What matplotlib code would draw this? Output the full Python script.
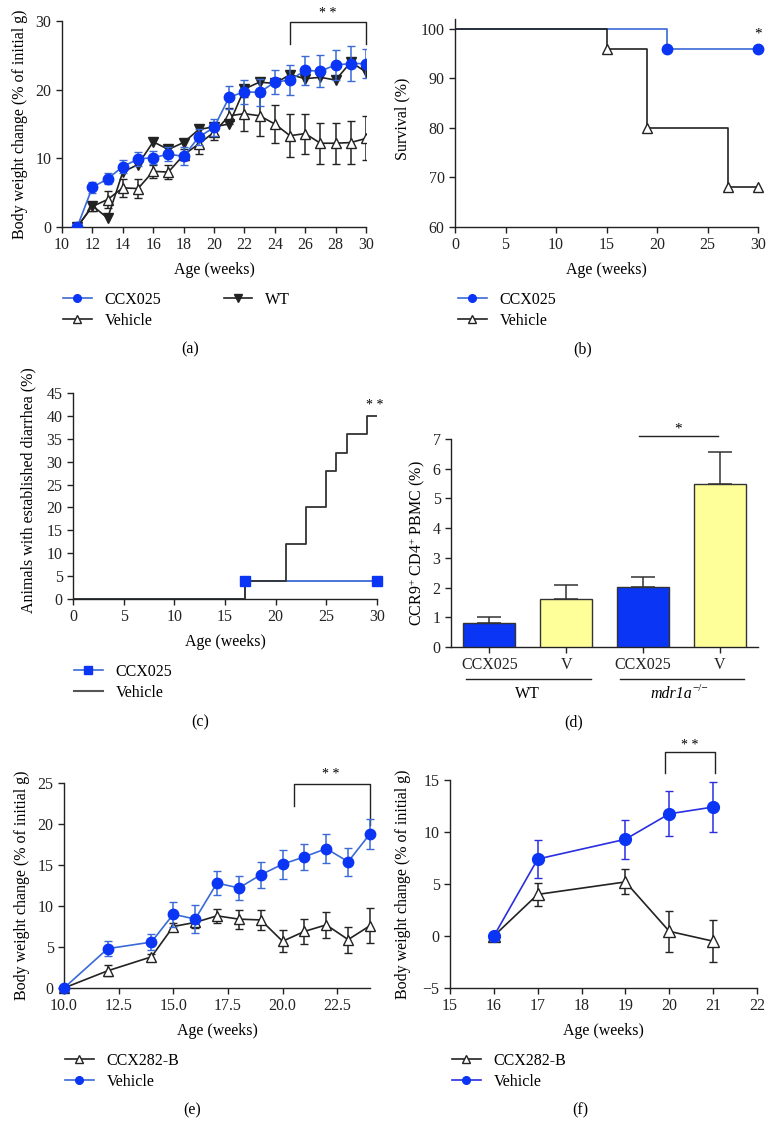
import numpy as np
import matplotlib
matplotlib.use("Agg")
import matplotlib.pyplot as plt
from matplotlib.lines import Line2D
import matplotlib.transforms as mtransforms

plt.rcParams['font.family'] = 'Liberation Serif'
plt.rcParams['font.size'] = 11.5
plt.rcParams['mathtext.fontset'] = 'custom'
plt.rcParams['mathtext.rm'] = 'Liberation Serif'
plt.rcParams['mathtext.it'] = 'Liberation Serif:italic'

# (a) body weight, mdr1a model
weeks_a = np.arange(11, 31)
ccx_a = [0, 5.8, 7.0, 8.8, 9.9, 10.1, 10.6, 10.3, 13.1, 14.5, 18.9, 19.7, 19.6, 21.1, 21.4, 22.8, 22.7, 23.6, 23.8, 23.8]
ccx_a_err = [0.2, 0.8, 0.8, 1.0, 1.0, 0.9, 1.0, 1.3, 1.2, 1.3, 1.65, 1.75, 2.0, 1.7, 2.2, 2.1, 2.3, 2.2, 2.5, 2.1]
veh_a = [0, 3.0, 4.0, 5.7, 5.6, 8.1, 8.0, 10.5, 12.1, 13.8, 16.2, 16.5, 16.2, 15.0, 13.3, 13.6, 12.2, 12.2, 12.3, 12.9]
veh_a_err = [0.2, 0.7, 1.2, 1.3, 1.4, 0.9, 1.0, 0.8, 1.4, 1.1, 1.2, 2.5, 2.9, 2.8, 3.1, 2.9, 3.0, 3.0, 3.1, 3.2]
wt_a = [0, 3.1, 1.3, 8.0, 9.1, 12.4, 11.3, 12.3, 14.2, 14.6, 15.0, 20.1, 21.1, 20.9, 22.2, 21.6, 21.8, 21.4, 24.0, 22.6]

# (b) survival
surv_t_ccx = [0, 21, 30]
surv_ccx = [100, 96, 96]
surv_t_veh = [0, 15, 19, 27, 30]
surv_veh = [100, 96, 80, 68, 68]

# (c) diarrhea incidence
diar_t_ccx = [0, 17, 30]
diar_ccx = [0, 4, 4]
diar_t_veh = [0, 17, 21, 23, 25, 26, 27, 29, 30]
diar_veh = [0, 4, 12, 20, 28, 32, 36, 40, 40]

# (d) CCR9+ CD4+ PBMC
bar_labels = ['CCX025', 'V', 'CCX025', 'V']
bar_vals = [0.80, 1.62, 2.02, 5.47]
bar_err = [0.22, 0.45, 0.33, 1.08]
group_labels = ['WT', 'mdr1a']

# (e) CCX282-B study 1
weeks_e = [10, 12, 14, 15, 16, 17, 18, 19, 20, 21, 22, 23, 24]
veh_e = [0, 4.8, 5.6, 9.0, 8.4, 12.8, 12.2, 13.8, 15.1, 16.0, 17.0, 15.4, 18.8]
veh_e_err = [0.2, 0.9, 1.0, 1.5, 1.7, 1.45, 1.5, 1.6, 1.75, 1.6, 1.75, 1.7, 1.85]
ccx282_e = [0, 2.1, 3.8, 7.5, 8.0, 8.8, 8.4, 8.3, 5.7, 6.9, 7.7, 5.9, 7.6]
ccx282_e_err = [0.2, 0.65, 0.4, 0.45, 0.7, 0.85, 1.15, 1.2, 1.35, 1.5, 1.6, 1.6, 2.1]

# (f) CCX282-B study 2
weeks_f = [16, 17, 19, 20, 21]
veh_f = [0, 7.4, 9.3, 11.75, 12.4]
veh_f_err = [0.3, 1.85, 1.9, 2.15, 2.4]
ccx282_f = [0, 4.0, 5.2, 0.45, -0.5]
ccx282_f_err = [0.3, 1.1, 1.2, 2.0, 2.0]

BLUE = '#0b35f5'
BLUE_LINE = '#3a6ad6'
DARK = '#222222'
W, H = 777, 1129

fig = plt.figure(figsize=(W / 100, H / 100), dpi=100)


def make_ax(l, t, r, b):
    ax = fig.add_axes([l / W, 1 - b / H, (r - l) / W, (b - t) / H])
    for s in ['top', 'right']:
        ax.spines[s].set_visible(False)
    for s in ['left', 'bottom']:
        ax.spines[s].set_linewidth(1.0)
        ax.spines[s].set_color(DARK)
    ax.tick_params(direction='out', length=4, width=1.0, colors=DARK, labelsize=11.5)
    return ax


def labels(ax, xl, yl, ylx, yly=0.5):
    if xl:
        ax.set_xlabel(xl)
        ax.xaxis.set_label_coords(0.5, -43 / 206)
        ax.xaxis.label.set_va('center')
    ax.set_ylabel(yl)
    ax.yaxis.set_label_coords(ylx, yly)
    ax.yaxis.label.set_va('center')


def legend(handles, names, x, y, ncol=1):
    fig.legend(handles, names, loc='upper left', bbox_to_anchor=(x / W, 1 - y / H),
               frameon=False, ncol=ncol, borderpad=0, borderaxespad=0,
               handlelength=1.8, handletextpad=0.8, labelspacing=0.3,
               columnspacing=3.9, fontsize=11.5)


h_ccx = Line2D([], [], color=BLUE_LINE, marker='o', mfc=BLUE, mec=BLUE, ms=5.5, lw=1.2)
h_veh = Line2D([], [], color=DARK, marker='^', mfc='white', mec=DARK, ms=5.5, lw=1.2)
h_wt = Line2D([], [], color=DARK, marker='v', mfc=DARK, mec=DARK, ms=6, lw=1.2)
h_sq = Line2D([], [], color=BLUE_LINE, marker='s', mfc=BLUE, mec=BLUE, ms=5.5, lw=1.2)
h_grey = Line2D([], [], color='#555555', lw=1.5)

# ---------- (a)
ax = make_ax(62, 21, 366, 227)
ax.errorbar(weeks_a, veh_a, yerr=veh_a_err, fmt='-^', color=DARK, mfc='white', mec=DARK,
            ms=7, lw=1.2, elinewidth=1.1, capsize=3, zorder=3)
ax.plot(weeks_a, wt_a, '-v', color=DARK, mfc=DARK, ms=7, lw=1.2, zorder=4)
ax.errorbar(weeks_a, ccx_a, yerr=ccx_a_err, fmt='-o', color=BLUE_LINE, mfc=BLUE, mec=BLUE,
            ms=7.5, lw=1.2, elinewidth=1.1, capsize=3, zorder=5)
ax.set_xlim(10, 30)
ax.set_ylim(0, 30)
ax.set_xticks(range(10, 31, 2))
ax.set_yticks([0, 10, 20, 30])
ax.plot([25, 25, 30, 30], [26.7, 29.8, 29.8, 26.7], color=DARK, lw=1, clip_on=False)
ax.text(27.5, 30.2, '* *', ha='center', va='bottom', fontsize=10)
labels(ax, 'Age (weeks)', 'Body weight change (% of initial g)', -0.138)
legend([h_ccx, h_veh, h_wt], ['CCX025', 'Vehicle', 'WT'], 63, 292, ncol=2)
fig.text(190 / W, 1 - 349 / H, '(a)', ha='center', va='center')

# ---------- (b)
ax = make_ax(455, 19, 758, 227)
ax.plot(surv_t_ccx, surv_ccx, drawstyle='steps-post', color=BLUE_LINE, lw=1.2, zorder=2)
ax.plot(surv_t_ccx[1:], surv_ccx[1:], 'o', color=BLUE, ms=7.5, zorder=4, clip_on=False)
ax.plot(surv_t_veh, surv_veh, drawstyle='steps-post', color=DARK, lw=1.2, zorder=3)
ax.plot(surv_t_veh[1:], surv_veh[1:], '^', mfc='white', mec=DARK, ms=7, zorder=4, clip_on=False)
ax.set_xlim(0, 30)
ax.set_ylim(60, 102)
ax.set_xticks(range(0, 31, 5))
ax.set_yticks(range(60, 101, 10))
ax.text(30, 97.6, '*', ha='center', va='bottom', fontsize=11)
labels(ax, 'Age (weeks)', 'Survival (%)', -0.172, 0.52)
legend([h_ccx, h_veh], ['CCX025', 'Vehicle'], 458, 292)
fig.text(583 / W, 1 - 349 / H, '(b)', ha='center', va='center')

# ---------- (c)
ax = make_ax(73, 393, 377, 599)
ax.plot(diar_t_ccx, diar_ccx, drawstyle='steps-post', color=BLUE_LINE, lw=1.3, zorder=2)
ax.plot(diar_t_veh, diar_veh, drawstyle='steps-post', color='#333333', lw=1.3, zorder=3)
ax.plot(diar_t_ccx[1:], diar_ccx[1:], 's', color=BLUE, ms=7, zorder=4, clip_on=False)
ax.set_xlim(0, 30)
ax.set_ylim(0, 45)
ax.set_xticks(range(0, 31, 5))
ax.set_yticks(range(0, 46, 5))
ax.text(29.8, 40.8, '* *', ha='center', va='bottom', fontsize=10)
labels(ax, 'Age (weeks)', 'Animals with established diarrhea (%)', -0.148, 0.53)
legend([h_sq, h_grey], ['CCX025', 'Vehicle'], 74, 664)
fig.text(200 / W, 1 - 722 / H, '(c)', ha='center', va='center')

# ---------- (d)
ax = make_ax(451, 439, 758, 647)
xpos = np.arange(len(bar_vals))
ax.bar(xpos, bar_vals, width=0.68, color=[BLUE, '#ffff99', BLUE, '#ffff99'],
       edgecolor='#333333', linewidth=1.0, zorder=3)
ax.errorbar(xpos, bar_vals, yerr=[np.zeros(len(bar_err)), bar_err], fmt='none',
            ecolor='#333333', elinewidth=1.1, capsize=8.5, capthick=1.1, zorder=2)
ax.set_xlim(-0.5, 3.5)
ax.set_ylim(0, 7)
ax.set_yticks(range(0, 8))
ax.set_xticks(xpos)
ax.set_xticklabels(bar_labels)
ax.tick_params(axis='x', length=4, pad=3)
trans = mtransforms.blended_transform_factory(ax.transData, ax.transAxes)
ax.plot([-0.30, 1.32], [-0.154, -0.154], color=DARK, lw=1, transform=trans, clip_on=False)
ax.plot([1.70, 3.32], [-0.154, -0.154], color=DARK, lw=1, transform=trans, clip_on=False)
ax.text(0.5, -0.225, group_labels[0], ha='center', va='center', transform=trans)
ax.text(2.64, -0.225, group_labels[1], style='italic', ha='right', va='center', transform=trans)
ax.text(2.645, -0.20, '\u2212/\u2212', fontsize=8, ha='left', va='center', transform=trans)
ax.plot([1.95, 2.98], [7.1, 7.1], color=DARK, lw=1, clip_on=False)
ax.text(2.46, 7.12, '*', ha='center', va='bottom', fontsize=11)
labels(ax, None, r'CCR9$^{+}$ CD4$^{+}$ PBMC (%)', -0.11, 0.5)
fig.text(574 / W, 1 - 722 / H, '(d)', ha='center', va='center')

# ---------- (e)
ax = make_ax(64, 783, 370, 988)
ax.errorbar(weeks_e, ccx282_e, yerr=ccx282_e_err, fmt='-^', color=DARK, mfc='white', mec=DARK,
            ms=7, lw=1.2, elinewidth=1.1, capsize=3, zorder=3, clip_on=False)
ax.errorbar(weeks_e, veh_e, yerr=veh_e_err, fmt='-o', color=BLUE_LINE, mfc=BLUE, mec=BLUE,
            ms=7.5, lw=1.2, elinewidth=1.1, capsize=3, zorder=4, clip_on=False)
ax.set_xlim(10, 24)
ax.set_ylim(0, 25)
ax.set_xticks(np.arange(10, 23, 2.5))
ax.set_xticklabels(['%.1f' % v for v in np.arange(10, 23, 2.5)])
ax.set_yticks(range(0, 26, 5))
ax.plot([20.5, 20.5, 24, 24], [22.2, 24.9, 24.9, 19.9], color=DARK, lw=1, clip_on=False)
ax.text(22.2, 25.3, '* *', ha='center', va='bottom', fontsize=10)
labels(ax, 'Age (weeks)', 'Body weight change (% of initial g)', -0.137)
legend([h_veh, h_ccx], ['CCX282-B', 'Vehicle'], 65, 1053)
fig.text(192 / W, 1 - 1110 / H, '(e)', ha='center', va='center')

# ---------- (f)
ax = make_ax(450, 780, 757, 988)
ax.errorbar(weeks_f, ccx282_f, yerr=ccx282_f_err, fmt='-^', color=DARK, mfc='white', mec=DARK,
            ms=8, lw=1.2, elinewidth=1.1, capsize=3, zorder=3)
ax.errorbar(weeks_f, veh_f, yerr=veh_f_err, fmt='-o', color='#2a2ee0', mfc=BLUE, mec=BLUE,
            ms=8.5, lw=1.2, elinewidth=1.1, capsize=3, zorder=4)
ax.set_xlim(15, 22)
ax.set_ylim(-5, 15)
ax.set_xticks(range(15, 23))
ax.set_yticks(range(-5, 16, 5))
ax.plot([19.9, 19.9, 21.05, 21.05], [15.65, 17.66, 17.66, 15.65], color=DARK, lw=1, clip_on=False)
ax.text(20.47, 17.7, '* *', ha='center', va='bottom', fontsize=10)
labels(ax, 'Age (weeks)', 'Body weight change (% of initial g)', -0.153)
legend([h_veh, Line2D([], [], color='#2a2ee0', marker='o', mfc=BLUE, mec=BLUE, ms=5.5, lw=1.2)],
       ['CCX282-B', 'Vehicle'], 452, 1053)
fig.text(580 / W, 1 - 1110 / H, '(f)', ha='center', va='center')

fig.savefig('out.png', dpi=100)
